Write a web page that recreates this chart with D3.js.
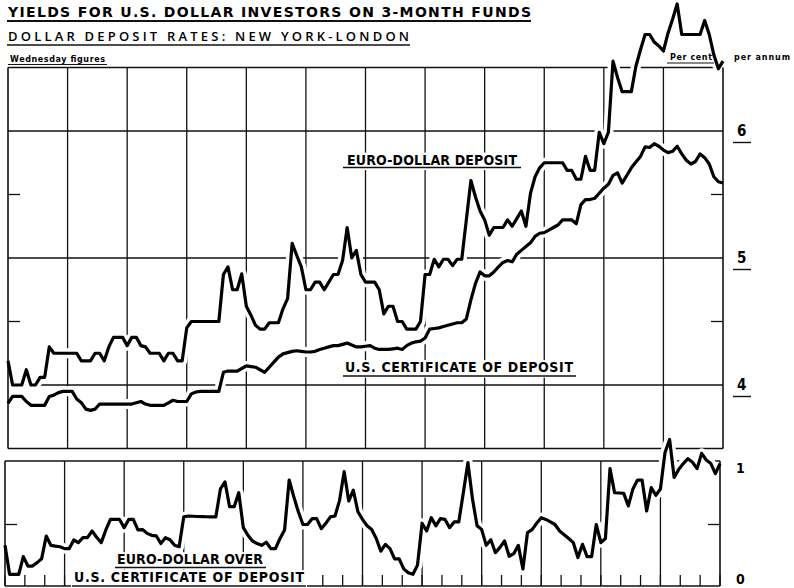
<!DOCTYPE html>
<html><head><meta charset="utf-8">
<script src="https://cdn.jsdelivr.net/npm/d3@7"></script>
<style>
html,body{margin:0;padding:0;background:#fff;}
svg{display:block;background:#fff;}
</style></head>
<body><svg id="c" width="794" height="588"></svg>
<script>
// ---- DATA (weekly Wednesday figures, per cent per annum) ----
const euroDeposit = [
  4.19,4.00,4.00,4.00,4.12,4.00,4.00,4.06,4.06,4.30,4.25,4.25,4.25,
  4.25,4.25,4.25,4.19,4.19,4.19,4.25,4.25,4.19,4.30,4.375,4.375,4.375,
  4.31,4.375,4.375,4.31,4.30,4.25,4.25,4.25,4.19,4.25,4.25,4.19,4.19,
  4.45,4.50,4.50,4.50,4.50,4.50,4.50,4.50,4.87,4.93,4.75,4.75,4.875,
  4.62,4.55,4.47,4.44,4.44,4.49,4.49,4.49,4.60,4.68,5.115,5.02,4.93,
  4.75,4.75,4.81,4.81,4.75,4.81,4.87,4.87,4.98,5.24,5.00,5.06,4.87,
  4.81,4.81,4.81,4.75,4.56,4.62,4.62,4.50,4.50,4.44,4.44,4.44,4.50,
  4.87,4.87,4.99,4.93,4.99,4.99,4.94,4.99,4.99,5.30,5.61,5.48,5.37,
  5.30,5.18,5.24,5.24,5.24,5.30,5.25,5.31,5.37,5.25,5.51,5.64,5.71,
  5.75,5.75,5.75,5.75,5.75,5.69,5.69,5.62,5.62,5.80,5.69,5.69,5.99,
  5.90,5.99,6.55,6.42,6.31,6.31,6.31,6.51,6.64,6.76,6.76,6.70,6.67,
  6.63,6.77,6.88,7.00,6.76,6.76,6.76,6.76,6.76,6.87,6.76,6.60,6.49,
  6.55
];
const usCD = [
  3.856,3.91,3.91,3.91,3.87,3.84,3.84,3.84,3.84,3.91,3.92,3.94,3.95,
  3.95,3.95,3.89,3.86,3.81,3.80,3.81,3.85,3.85,3.85,3.85,3.85,3.85,
  3.85,3.85,3.86,3.87,3.85,3.84,3.84,3.84,3.84,3.86,3.88,3.87,3.87,
  3.87,3.93,3.945,3.95,3.95,3.95,3.95,3.95,4.10,4.11,4.11,4.11,4.13,
  4.15,4.145,4.14,4.12,4.10,4.14,4.18,4.22,4.245,4.255,4.265,4.27,4.265,
  4.26,4.26,4.265,4.28,4.29,4.30,4.31,4.31,4.32,4.33,4.315,4.30,4.30,
  4.305,4.31,4.29,4.28,4.28,4.28,4.285,4.29,4.28,4.31,4.33,4.34,4.345,
  4.37,4.44,4.445,4.45,4.46,4.47,4.48,4.49,4.49,4.52,4.67,4.80,4.89,
  4.86,4.86,4.89,4.93,4.965,4.98,4.97,5.03,5.06,5.09,5.12,5.17,5.195,
  5.20,5.22,5.24,5.26,5.30,5.30,5.30,5.27,5.42,5.46,5.46,5.47,5.51,
  5.55,5.58,5.65,5.67,5.59,5.65,5.71,5.755,5.80,5.875,5.87,5.90,5.88,
  5.85,5.83,5.84,5.88,5.82,5.77,5.74,5.76,5.82,5.79,5.74,5.64,5.60,
  5.59
];
const spreadEuroOverCD = [
  0.336,0.108,0.108,0.108,0.247,0.173,0.173,0.20,0.231,0.409,0.336,0.33,0.325,
  0.31,0.31,0.378,0.357,0.396,0.396,0.449,0.40,0.357,0.457,0.54,0.54,0.54,
  0.475,0.54,0.54,0.457,0.46,0.43,0.415,0.41,0.35,0.396,0.38,0.336,0.325,
  0.56,0.567,0.565,0.563,0.562,0.561,0.56,0.56,0.78,0.835,0.64,0.64,0.75,
  0.475,0.415,0.37,0.35,0.336,0.36,0.31,0.31,0.39,0.457,0.85,0.72,0.60,
  0.50,0.50,0.546,0.546,0.467,0.51,0.56,0.567,0.69,0.916,0.685,0.77,0.60,
  0.54,0.49,0.46,0.39,0.29,0.344,0.31,0.23,0.23,0.15,0.12,0.108,0.18,
  0.51,0.449,0.554,0.49,0.546,0.54,0.475,0.52,0.52,0.75,0.987,0.70,0.49,
  0.46,0.336,0.38,0.278,0.32,0.37,0.25,0.27,0.336,0.15,0.436,0.46,0.51,
  0.554,0.54,0.52,0.50,0.449,0.42,0.39,0.357,0.24,0.344,0.247,0.247,0.50,
  0.357,0.39,0.94,0.75,0.748,0.745,0.646,0.78,0.85,0.85,0.606,0.79,0.73,
  0.78,1.066,1.17,0.87,0.934,0.98,1.018,0.99,0.94,1.06,1.008,0.98,0.90,
  0.98
];
const quarters = [0,1,2,3,4,5,6,7,8,9,10,11,12];        // quarter gridlines (13 weeks each)
const months = d3.range(0, 37);                           // month ticks on lower panel
const topGridValues = [4, 5, 6];
const topHalfTicks = [4.5, 5.5];
const topTickLabels = [4, 5, 6];
const bottomTickLabels = [0, 1];
const bottomHalfTicks = [0.5];

// ---- SCALES ----
const xTop = d3.scaleLinear().domain([0, 156]).range([8, 723]);
const xBot = d3.scaleLinear().domain([0, 156]).range([5, 720]);
const yTop = d3.scaleLinear().domain([4, 6]).range([385, 131]);
const yBot = d3.scaleLinear().domain([0, 1]).range([588, 461]);
const topY0 = yTop(6.5), topY1 = yTop(3.5);
const botY0 = yBot(1), botY1 = 586;

const svg = d3.select("#c");
const INK = "#111";
const condensed = "'Liberation Sans Narrow','DejaVu Sans Condensed','Arial Narrow',sans-serif";

// ---- GRID ----
const grid = svg.append("g").attr("stroke", INK).attr("stroke-width", 1.3);
grid.selectAll(".hg").data(topGridValues).join("line")
  .attr("x1", xTop(0)).attr("x2", xTop(156)).attr("y1", d => yTop(d)).attr("y2", d => yTop(d));
grid.selectAll(".ht").data(topHalfTicks).join("line")
  .attr("x1", xTop(0)).attr("x2", xTop(0) + 12).attr("y1", d => yTop(d)).attr("y2", d => yTop(d));
grid.selectAll(".htr").data(topHalfTicks).join("line")
  .attr("x1", xTop(156) - 12).attr("x2", xTop(156)).attr("y1", d => yTop(d)).attr("y2", d => yTop(d));
grid.selectAll(".vt").data(quarters.slice(1, 12)).join("line")
  .attr("x1", d => xTop(d * 13)).attr("x2", d => xTop(d * 13)).attr("y1", topY0).attr("y2", topY1);
grid.selectAll(".vb").data(quarters.slice(1, 12)).join("line")
  .attr("x1", d => xBot(d * 13)).attr("x2", d => xBot(d * 13)).attr("y1", botY0).attr("y2", botY1);
grid.selectAll(".bt").data(bottomHalfTicks).join("line")
  .attr("x1", xBot(0)).attr("x2", xBot(0) + 12).attr("y1", d => yBot(d)).attr("y2", d => yBot(d));
grid.selectAll(".btr").data(bottomHalfTicks).join("line")
  .attr("x1", xBot(156) - 12).attr("x2", xBot(156)).attr("y1", d => yBot(d)).attr("y2", d => yBot(d));
grid.selectAll(".mt").data(months).join("line")
  .attr("x1", d => xBot(d * 13 / 3)).attr("x2", d => xBot(d * 13 / 3)).attr("y1", botY1 - 11).attr("y2", botY1);
// horizontal frame edges
const frameH = svg.append("g").attr("stroke", INK).attr("stroke-width", 1.6);
[[xTop, topY0], [xTop, topY1], [xBot, botY0], [xBot, botY1]].forEach(([xs, y]) => {
  frameH.append("line").attr("x1", xs(0)).attr("x2", xs(156)).attr("y1", y).attr("y2", y);
});

// ---- LINES ----
const lineTop = d3.line().x((d, i) => xTop(i)).y(d => yTop(d));
const lineBot = d3.line().x((d, i) => xBot(i)).y(d => yBot(d));
const series = [[euroDeposit, lineTop], [usCD, lineTop], [spreadEuroOverCD, lineBot]];
const halo = svg.append("g");
series.forEach(([data, gen]) => {
  halo.append("path").attr("d", gen(data)).attr("fill", "none")
    .attr("stroke", "#fff").attr("stroke-width", 10).attr("stroke-linejoin", "round");
});
// vertical frame edges
const frameV = svg.append("g").attr("stroke", INK).attr("stroke-width", 1.6);
[[xTop, topY0, topY1], [xBot, botY0, botY1]].forEach(([xs, a, b]) => {
  [0, 156].forEach(w => frameV.append("line").attr("x1", xs(w)).attr("x2", xs(w)).attr("y1", a).attr("y2", b));
});
const lines = svg.append("g");
series.forEach(([data, gen]) => {
  lines.append("path").attr("d", gen(data)).attr("fill", "none")
    .attr("stroke", "#000").attr("stroke-width", 3.2).attr("stroke-linejoin", "round");
});

// ---- AXES (right-hand value labels) ----
function styleAxis(g, size) {
  g.attr("font-family", condensed).attr("font-size", size).attr("font-weight", "bold");
  g.select(".domain").remove();
  g.selectAll("text").attr("fill", "#000");
}
const axTop = svg.append("g").attr("transform", `translate(${xTop(156) + 8},0)`)
  .call(d3.axisRight(yTop).tickValues(topTickLabels).tickSize(0).tickPadding(6).tickFormat(d3.format("d")));
styleAxis(axTop, 15);
axTop.selectAll(".tick").append("line").attr("x1", 2).attr("x2", 20).attr("y1", 11).attr("y2", 11)
  .attr("stroke", INK).attr("stroke-width", 1.4);
const axBot = svg.append("g").attr("transform", `translate(${xTop(156) + 7},0)`)
  .call(d3.axisRight(yBot).tickValues(bottomTickLabels).tickSize(0).tickPadding(6).tickFormat(d3.format("d")));
styleAxis(axBot, 14);
axBot.selectAll("text").attr("dy", d => d === 1 ? "0.85em" : "-0.3em");

// ---- TEXT ----
function label(txt, x, y, len, opts) {
  const o = Object.assign({ family: condensed, size: 14, weight: "bold", underline: null, bg: false }, opts || {});
  if (o.bg) {
    svg.append("rect").attr("x", x - 3).attr("y", y - o.size * 0.85).attr("width", len + 6)
      .attr("height", o.size * 1.25).attr("fill", "#fff");
  }
  svg.append("text").attr("x", x).attr("y", y).attr("font-family", o.family).attr("font-size", o.size)
    .attr("font-weight", o.weight).attr("fill", "#000").attr("textLength", len)
    .attr("lengthAdjust", "spacing").text(txt);
  if (o.underline) {
    svg.append("line").attr("x1", o.underline[0]).attr("x2", o.underline[1])
      .attr("y1", o.underline[2]).attr("y2", o.underline[2]).attr("stroke", INK).attr("stroke-width", o.underline[3] || 1.5);
  }
}
label("YIELDS FOR U.S. DOLLAR INVESTORS ON 3-MONTH FUNDS", 8, 17, 523,
  { family: "'DejaVu Sans',sans-serif", size: 14, underline: [7, 531, 21, 1.8] });
label("DOLLAR DEPOSIT RATES: NEW YORK-LONDON", 8, 41, 401,
  { family: "'Open Sans','DejaVu Sans',sans-serif", size: 13, weight: 600, underline: [7, 410, 45, 1.6] });
label("Wednesday figures", 10, 61.5, 95,
  { family: "'DejaVu Sans',sans-serif", size: 8, underline: [8, 107, 64.5, 1.2] });
label("Per cent", 670, 60, 42,
  { family: "'DejaVu Sans',sans-serif", size: 8, underline: [667, 714, 63, 1.2] });
label("per annum", 734, 60, 56, { family: "'DejaVu Sans',sans-serif", size: 8 });

label("EURO-DOLLAR DEPOSIT", 347, 164.5, 170, { bg: true, underline: [343, 521, 167.5] });
label("U.S. CERTIFICATE OF DEPOSIT", 345, 372, 228, { bg: true, underline: [343, 576, 376] });
label("EURO-DOLLAR OVER", 117, 564, 146, { bg: true, underline: [115, 266, 567.5] });
label("U.S. CERTIFICATE OF DEPOSIT", 74, 582, 230, { bg: true, underline: [72, 306, 586] });
</script>
</body></html>
